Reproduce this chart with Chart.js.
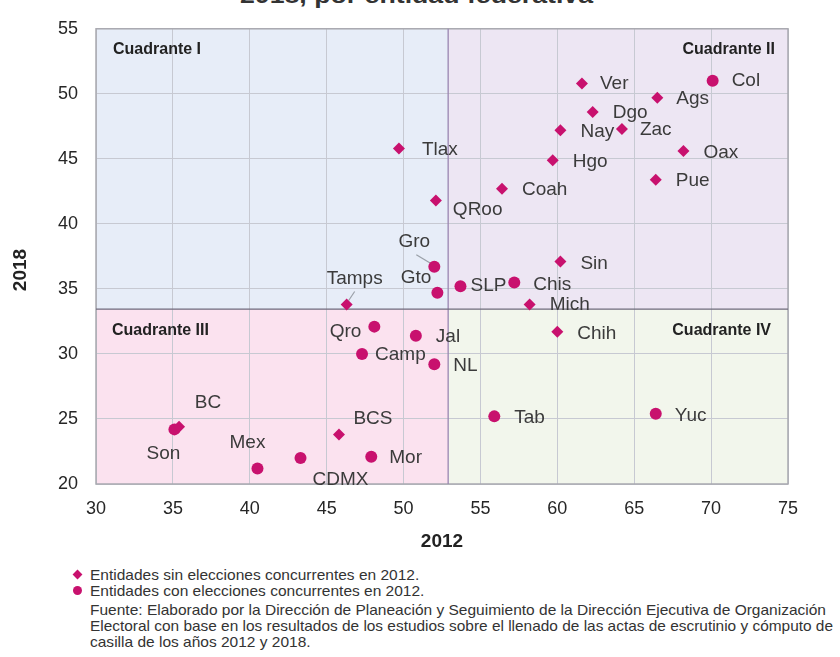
<!DOCTYPE html>
<html><head><meta charset="utf-8">
<script src="https://cdn.jsdelivr.net/npm/chart.js@4/dist/chart.umd.min.js"></script>
<style>
html,body{margin:0;padding:0;background:#fff;}
#wrap{position:relative;width:840px;height:657px;overflow:hidden;font-family:"Liberation Sans",Arial,sans-serif;color:#333;}
#box{position:absolute;left:0;top:0;width:840px;height:560px;}
.t{position:absolute;white-space:nowrap;transform-origin:0 50%;}
.fn{font-family:"Liberation Sans Narrow","Arial Narrow","Liberation Sans",Arial,sans-serif;font-size:15px;line-height:16px;color:#333;left:90px;}
.ic{position:absolute;background:#c8116e;}
</style></head><body>
<div id="wrap">
  <div id="title" class="t" style="left:240px;top:-15px;font-size:22px;line-height:22px;font-weight:bold;color:#333;">2018, por entidad federativa</div>
  <div id="box"><canvas id="cv" width="840" height="560"></canvas></div>
  <div class="ic" style="left:74px;top:571px;width:7px;height:7px;transform:rotate(45deg);"></div>
  <div class="ic" style="left:73px;top:586px;width:9px;height:9px;border-radius:50%;"></div>
  <div class="t fn" id="f1" style="top:567px;">Entidades sin elecciones concurrentes en 2012.</div>
  <div class="t fn" id="f2" style="top:583px;">Entidades con elecciones concurrentes en 2012.</div>
  <div class="t fn" id="f3" style="top:602px;">Fuente: Elaborado por la Dirección de Planeación y Seguimiento de la Dirección Ejecutiva de Organización</div>
  <div class="t fn" id="f4" style="top:618px;">Electoral con base en los resultados de los estudios sobre el llenado de las actas de escrutinio y cómputo de</div>
  <div class="t fn" id="f5" style="top:634px;">casilla de los años 2012 y 2018.</div>
</div>
<script>
// ---- data ----
const states = ['Ver','Col','Ags','Dgo','Nay','Zac','Oax','Hgo','Pue','Coah','QRoo','Sin','SLP','Chis','Mich','Chih','Tab','Yuc','NL','Tlax','Gro','Gto','Tamps','Qro','Jal','Camp','BC','Son','BCS','Mex','CDMX','Mor'];
const x2012 = [61.6,70.1,66.5,62.3,60.2,64.2,68.2,59.7,66.4,56.4,52.1,60.2,53.7,57.2,58.2,60.0,55.9,66.4,52.0,49.7,52.0,52.2,46.3,48.1,50.8,47.3,35.4,35.1,45.8,40.5,43.3,47.9];
const y2018 = [50.8,51.0,49.7,48.6,47.2,47.3,45.6,44.9,43.4,42.7,41.8,37.1,35.2,35.5,33.8,31.7,25.2,25.4,29.2,45.8,36.7,34.7,33.8,32.1,31.4,30.0,24.4,24.2,23.8,21.2,22.0,22.1];
const concurrent = [false,true,false,false,false,false,false,false,false,false,false,false,true,true,false,false,true,true,true,false,true,true,false,true,true,true,false,true,false,true,true,true];
const dividerX = 52.9;
const dividerY = 33.45;
const xTicks = [30,35,40,45,50,55,60,65,70,75];
const yTicks = [20,25,30,35,40,45,50,55];
const quadrantNames = ['Cuadrante I','Cuadrante II','Cuadrante III','Cuadrante IV'];

// ---- label layout (pixel offsets from each point) ----
const labelLayout = {
  Ver:[18,0,'left'], Col:[19,0,'left'], Ags:[19,1,'left'], Dgo:[20,1,'left'], Nay:[20,2,'left'],
  Zac:[18,1,'left'], Oax:[20,2,'left'], Hgo:[20,2,'left'], Pue:[20,1,'left'], Coah:[20,1,'left'],
  QRoo:[17,9,'left'], Sin:[20,2,'left'], SLP:[10,-1,'left'], Chis:[19,2,'left'], Mich:[20,0,'left'],
  Chih:[20,2,'left'], Tab:[20,1,'left'], Yuc:[19,2,'left'], NL:[19,1,'left'], Tlax:[23,1,'left'],
  Gro:[-20,-25,'center'], Gto:[-6,-15,'right'], Tamps:[8,-26,'center'], Qro:[-13,5,'right'],
  Jal:[20,1,'left'], Camp:[13,1,'left'], BC:[29,-24,'center'], Son:[-11,24,'center'],
  BCS:[34,-16,'center'], Mex:[-10,-26,'center'], CDMX:[40,22,'center'], Mor:[18,1,'left']
};
const leaders = { Gro:[-18,-12,-3,-3], Tamps:[8,-13,2,-4] };

const MARK = '#c8116e';
const idxSin = states.map((s,i)=>i).filter(i=>!concurrent[i]);
const idxCon = states.map((s,i)=>i).filter(i=>concurrent[i]);

const plug = {
  id:'quad',
  beforeDraw(chart){
    const {ctx, chartArea:a, scales:{x,y}} = chart;
    const vx = x.getPixelForValue(dividerX), hy = y.getPixelForValue(dividerY);
    ctx.save();
    ctx.fillStyle='#e7edf8'; ctx.fillRect(a.left,a.top,vx-a.left,hy-a.top);
    ctx.fillStyle='#ede6f3'; ctx.fillRect(vx,a.top,a.right-vx,hy-a.top);
    ctx.fillStyle='#fbe2ef'; ctx.fillRect(a.left,hy,vx-a.left,a.bottom-hy);
    ctx.fillStyle='#f2f6ec'; ctx.fillRect(vx,hy,a.right-vx,a.bottom-hy);
    ctx.restore();
  },
  beforeDatasetsDraw(chart){
    const {ctx, chartArea:a, scales:{x,y}} = chart;
    const vx = x.getPixelForValue(dividerX), hy = y.getPixelForValue(dividerY);
    ctx.save();
    ctx.strokeStyle='#a9a9b0'; ctx.lineWidth=1.5;
    ctx.strokeRect(a.left,a.top,a.right-a.left,a.bottom-a.top);
    ctx.strokeStyle='#9a86b2'; ctx.lineWidth=1.3;
    ctx.beginPath(); ctx.moveTo(vx,a.top); ctx.lineTo(vx,a.bottom); ctx.stroke();
    ctx.strokeStyle='#6f6a7c';
    ctx.beginPath(); ctx.moveTo(a.left,hy); ctx.lineTo(a.right,hy); ctx.stroke();
    // quadrant labels
    ctx.fillStyle='#222'; ctx.font='bold 16px "Liberation Sans", Arial, sans-serif';
    ctx.textBaseline='middle';
    ctx.textAlign='left';
    ctx.fillText(quadrantNames[0], a.left+17, a.top+21);
    ctx.fillText(quadrantNames[2], a.left+16, hy+22);
    ctx.textAlign='right';
    ctx.fillText(quadrantNames[1], a.right-13, a.top+21);
    ctx.fillText(quadrantNames[3], a.right-17, hy+22);
    // leader lines
    ctx.strokeStyle='#9aa0a8'; ctx.lineWidth=1.2;
    Object.keys(leaders).forEach(k=>{
      const i = states.indexOf(k), L = leaders[k];
      const px = x.getPixelForValue(x2012[i]), py = y.getPixelForValue(y2018[i]);
      ctx.beginPath(); ctx.moveTo(px+L[0],py+L[1]); ctx.lineTo(px+L[2],py+L[3]); ctx.stroke();
    });
    ctx.restore();
  },
  afterDatasetsDraw(chart){
    const {ctx, scales:{x,y}} = chart;
    ctx.save();
    ctx.fillStyle='#3b3b3b'; ctx.font='19px "Liberation Sans", Arial, sans-serif';
    ctx.textBaseline='middle';
    states.forEach((s,i)=>{
      const L = labelLayout[s];
      const px = x.getPixelForValue(x2012[i]), py = y.getPixelForValue(y2018[i]);
      ctx.textAlign = L[2];
      ctx.fillText(s, px+L[0], py+L[1]);
    });
    // y axis title
    ctx.fillStyle='#222'; ctx.font='bold 19px "Liberation Sans", Arial, sans-serif';
    ctx.translate(21,270); ctx.rotate(-Math.PI/2); ctx.textAlign='center';
    ctx.fillText('2018',0,0);
    ctx.restore();
  }
};

new Chart(document.getElementById('cv'), {
  type:'scatter',
  data:{ datasets:[
    { label:'Entidades sin elecciones concurrentes en 2012.', data: idxSin.map(i=>({x:x2012[i],y:y2018[i]})),
      pointStyle:'rectRot', pointRadius:6, backgroundColor:MARK, borderColor:MARK, borderWidth:0 },
    { label:'Entidades con elecciones concurrentes en 2012.', data: idxCon.map(i=>({x:x2012[i],y:y2018[i]})),
      pointStyle:'circle', pointRadius:6, backgroundColor:MARK, borderColor:MARK, borderWidth:0 }
  ]},
  options:{
    responsive:false, animation:false,
    layout:{ padding:{ top:19, right:52, left:0, bottom:0 } },
    plugins:{ legend:{display:false}, tooltip:{enabled:false} },
    scales:{
      x:{ type:'linear', min:30, max:75,
          afterBuildTicks:(s)=>{ s.ticks = xTicks.map(v=>({value:v})); },
          afterFit:(s)=>{ s.height = 76; },
          grid:{ color:'#c7c9d2', lineWidth:1, drawTicks:false },
          border:{ display:false },
          ticks:{ padding:14, color:'#262626', font:{ size:18, family:'"Liberation Sans", Arial, sans-serif' } },
          title:{ display:true, text:'2012', color:'#222', padding:{top:0,bottom:7}, font:{ size:19, weight:'bold', family:'"Liberation Sans", Arial, sans-serif' } } },
      y:{ type:'linear', min:20, max:55,
          afterBuildTicks:(s)=>{ s.ticks = yTicks.map(v=>({value:v})); },
          afterFit:(s)=>{ s.width = 96; },
          grid:{ color:'#c7c9d2', lineWidth:1, drawTicks:false },
          border:{ display:false },
          ticks:{ padding:18, color:'#262626', font:{ size:18, family:'"Liberation Sans", Arial, sans-serif' } } }
    }
  },
  plugins:[plug]
});

// fit text widths
function fit(id, w){ const e=document.getElementById(id); const n=e.getBoundingClientRect().width; e.style.transform='scaleX('+(w/n)+')'; return w/n; }
fit('title', 353);
const f3 = document.getElementById('f3'); const k = 736 / f3.getBoundingClientRect().width;
['f1','f2','f3','f5'].forEach(id=>{ document.getElementById(id).style.transform='scaleX('+k+')'; });
fit('f4', 743);
</script>
</body></html>
